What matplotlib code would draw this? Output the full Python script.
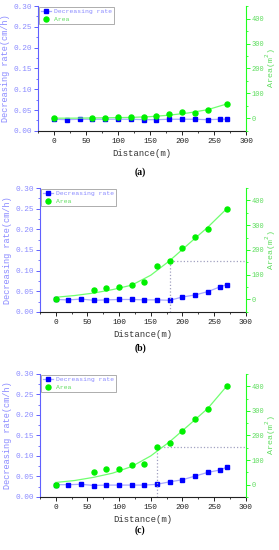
import numpy as np
import matplotlib
matplotlib.use("Agg")
import matplotlib.pyplot as plt
from matplotlib.ticker import MultipleLocator

# distances of the decreasing-rate points
dist = [0, 20, 40, 60, 80, 100, 120, 140, 160, 180, 200, 220, 240, 260, 270]
rate_a = [0.028, 0.027, 0.028, 0.028, 0.028, 0.028, 0.028, 0.027, 0.027, 0.028, 0.028, 0.028, 0.027, 0.028, 0.028]
rate_b = [0.030, 0.029, 0.031, 0.028, 0.029, 0.030, 0.030, 0.029, 0.029, 0.028, 0.036, 0.041, 0.049, 0.061, 0.066]
rate_c = [0.030, 0.030, 0.031, 0.028, 0.029, 0.029, 0.029, 0.029, 0.031, 0.037, 0.042, 0.051, 0.060, 0.066, 0.073]

# area points
area_x = [0, 60, 80, 100, 120, 140, 160, 180, 200, 220, 240, 270]
area_a = [0, 2, 1, 4, 4, 5, 11, 19, 24, 23, 34, 58]
area_b = [0, 37, 46, 52, 60, 72, 135, 155, 207, 252, 286, 367]
area_c = [0, 50, 64, 65, 78, 86, 154, 171, 218, 268, 307, 401]

# fitted curve
fit_x = [0, 30, 60, 90, 120, 150, 180, 210, 240, 270]
fit_a = [1, 1, 2, 3, 4, 7, 13, 22, 35, 58]
fit_b = [9, 16, 26, 40, 58, 98, 157, 225, 292, 367]
fit_c = [9, 17, 30, 47, 74, 117, 175, 242, 310, 401]

# marked point (dotted guide), None = no guide
marks = [None, 180, 160]
captions = ["(a)", "(b)", "(c)"]

blue = "#0000ff"
blue_line = "#a8a8ff"
blue_txt = "#8a8aff"
green = "#00f000"
green_line = "#70ff70"
green_txt = "#60dd60"
mono = "Liberation Mono"

fig = plt.figure(figsize=(2.79, 5.5), dpi=100)

boxes = [[0.136, 0.762, 0.746, 0.227],
         [0.143, 0.433, 0.738, 0.225],
         [0.143, 0.0964, 0.738, 0.2236]]
rates = [rate_a, rate_b, rate_c]
areas = [area_a, area_b, area_c]
fits = [fit_a, fit_b, fit_c]
cap_y = [172, 348, 530]

for i in range(3):
    ax = fig.add_axes(boxes[i])
    ax2 = ax.twinx()

    l1, = ax.plot(dist, rates[i], color=blue_line, lw=0.9, marker="s", ms=3.2,
                  mfc=blue, mec=blue, label="Decreasing rate", zorder=3)
    ax2.plot(fit_x, fits[i], color=green_line, lw=0.9, zorder=2)
    l2, = ax2.plot(area_x, areas[i], ls="none", marker="o", ms=3.6,
                   mfc=green, mec=green, label="Area", zorder=3)

    m = marks[i]
    if m is not None:
        v = areas[i][area_x.index(m)]
        ax2.plot([m, m], [-50, v], ls=":", color="#a0a0c0", lw=0.9, zorder=1)
        ax2.plot([m, 300], [v, v], ls=":", color="#a0a0c0", lw=0.9, zorder=1)

    ax.set_xlim(-25, 300)
    ax.set_ylim(0, 0.30)
    ax2.set_ylim(-50, 450)

    ax.xaxis.set_major_locator(MultipleLocator(50))
    ax.xaxis.set_minor_locator(MultipleLocator(25))
    ax.yaxis.set_major_locator(MultipleLocator(0.05))
    ax.yaxis.set_minor_locator(MultipleLocator(0.025))
    ax2.yaxis.set_major_locator(MultipleLocator(100))
    ax2.yaxis.set_minor_locator(MultipleLocator(50))
    ax.yaxis.set_major_formatter(lambda y, p: "%.2f" % y)
    ax2.set_yticks([0, 100, 200, 300, 400])

    ax.spines["top"].set_visible(False)
    ax2.spines["top"].set_visible(False)
    ax.spines["left"].set_color("#6060ff")
    ax2.spines["left"].set_visible(False)
    ax2.spines["right"].set_color("#20ff20")
    ax.spines["right"].set_visible(False)
    ax2.spines["bottom"].set_visible(False)
    ax.spines["bottom"].set_color("#222222")
    for a in (ax, ax2):
        for s in a.spines.values():
            s.set_linewidth(0.8)

    ax.tick_params(axis="x", which="both", direction="out", colors="#222222",
                   labelsize=5.6, pad=2)
    ax.tick_params(axis="x", which="major", length=3, width=0.7)
    ax.tick_params(axis="x", which="minor", length=1.6, width=0.6)
    ax.tick_params(axis="y", which="both", direction="out", color="#6060ff",
                   labelcolor=blue_txt, labelsize=5.6, pad=1.5)
    ax.tick_params(axis="y", which="major", length=3, width=0.7)
    ax.tick_params(axis="y", which="minor", length=1.6, width=0.6)
    ax2.tick_params(axis="y", which="both", direction="out", color="#20ff20",
                    labelcolor=green_txt, labelsize=5.0, pad=1)
    ax2.tick_params(axis="y", which="major", length=3, width=0.7)
    ax2.tick_params(axis="y", which="minor", length=1.6, width=0.6)
    for t in ax.get_xticklabels() + ax.get_yticklabels() + ax2.get_yticklabels():
        t.set_family(mono)

    ax.set_xlabel("Distance(m)", family=mono, fontsize=6.4, color="#333333", labelpad=3)
    ax.set_ylabel("Decreasing rate(cm/h)", family=mono, fontsize=6.2, color=blue_txt, labelpad=2)
    ax2.set_ylabel("Area(m$^2$)", family=mono, fontsize=6.0, color=green_txt,
                   rotation=90, va="center")
    ax2.yaxis.set_label_coords(1.12, 0.5)

    leg = ax2.legend([l1, l2], ["Decreasing rate", "Area"], loc="upper left",
                     prop={"family": mono, "size": 4.6}, frameon=True, fancybox=False,
                     borderaxespad=0.15, borderpad=0.3, handlelength=1.6,
                     handletextpad=0.4, labelspacing=0.3)
    leg.get_frame().set_edgecolor("#888888")
    leg.get_frame().set_linewidth(0.6)
    leg.get_texts()[0].set_color(blue_txt)
    leg.get_texts()[1].set_color(green_txt)

    fig.text(0.502, 1 - cap_y[i] / 550, captions[i], ha="center", va="center",
             fontsize=7, fontweight="bold", family="Liberation Serif")

fig.savefig("out.png", dpi=100)
